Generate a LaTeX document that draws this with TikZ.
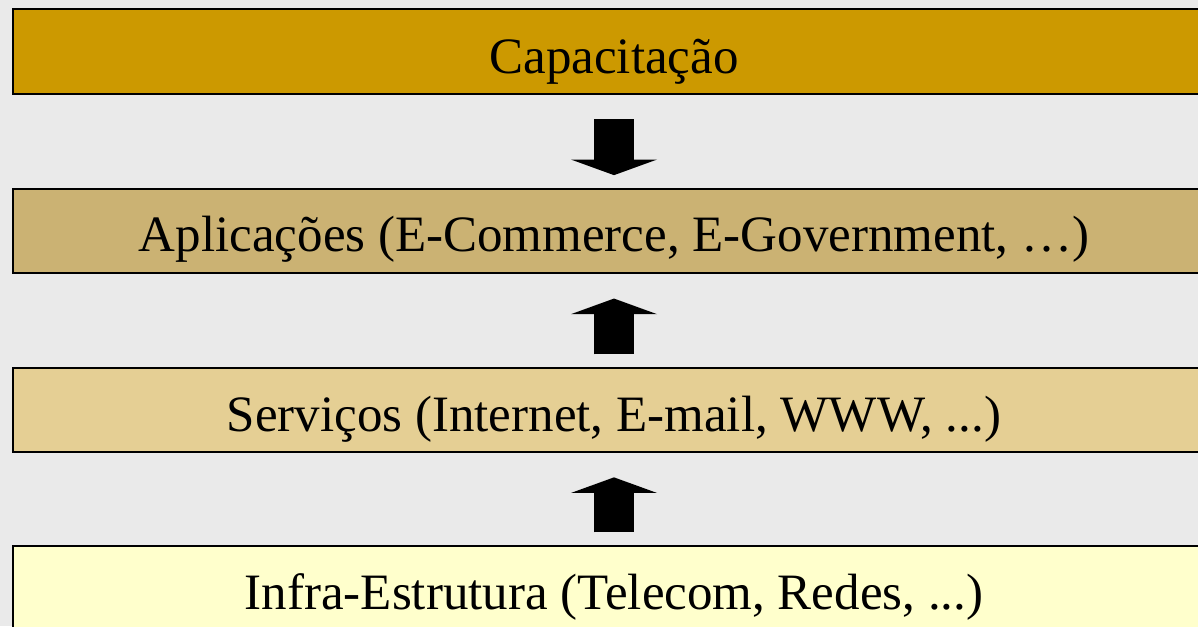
\documentclass[tikz,border=0pt]{standalone}
\usepackage{fontspec}
\setmainfont{Liberation Serif}
\usetikzlibrary{arrows.meta}

\definecolor{bgGrey}{HTML}{EAEAEA}
\definecolor{layerA}{HTML}{CC9900}
\definecolor{layerB}{HTML}{CBB273}
\definecolor{layerC}{HTML}{E5CF94}
\definecolor{layerD}{HTML}{FFFFCC}

\tikzset{
  layer/.style={draw=black, line width=2pt, minimum width=1203pt,
                minimum height=84pt, inner sep=0pt},
  layertext/.style={anchor=base, inner sep=0pt,
                    font=\fontsize{51}{60}\selectfont},
  blockarrow/.style={line width=40pt, line cap=butt,
                     -{Triangle[length=15.6pt, width=86pt, line width=0pt]}}
}

\begin{document}
\begin{tikzpicture}[x=1pt, y=-1pt]
    \fill[bgGrey] (0,0) rectangle (1198,626);
    \useasboundingbox (0,0) rectangle (1198,626);

    % layers, top to bottom
    \node[layer, fill=layerA, minimum height=84.5pt] (cap) at (614,51.75) {};
    \node[layer, fill=layerB] (apl) at (614,230.85) {};
    \node[layer, fill=layerC] (ser) at (614,409.65) {};
    \node[layer, fill=layerD] (inf) at (614,588) {};

    \node[layertext] (capT) at (614,74) {Capacitação};
    \node[layertext] (aplT) at (614,251.7) {Aplicações (E-Commerce, E-Government, …)};
    \node[layertext] (serT) at (614,431) {Serviços (Internet, E-mail, WWW, ...)};
    \node[layertext] (infT) at (614,609.5) {Infra-Estrutura (Telecom, Redes, ...)};

    % arrows between the layers
    \draw[blockarrow, shorten <=24.3pt, shorten >=12.7pt] (cap.south) -- (apl.north);
    \draw[blockarrow, shorten <=12.3pt, shorten >=24.7pt] (ser.north) -- (apl.south);
    \draw[blockarrow, shorten <=12.7pt, shorten >=24.7pt] (inf.north) -- (ser.south);
\end{tikzpicture}
\end{document}
